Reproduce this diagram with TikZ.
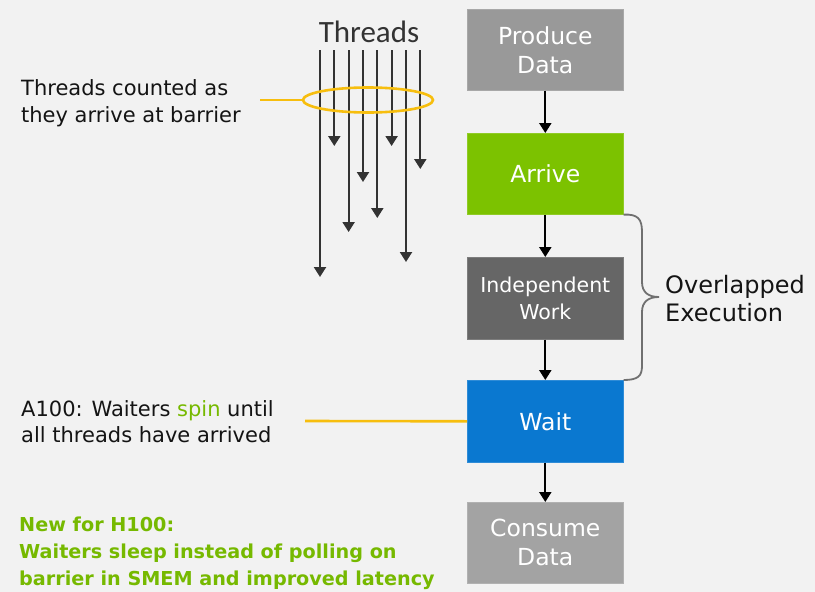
\documentclass[tikz,border=0pt]{standalone}
\usepackage{fontspec}
\setmainfont{DejaVu Sans}
\newfontfamily\headfont{Carlito}
\usetikzlibrary{arrows.meta,shapes.geometric}
\definecolor{bg}{HTML}{F2F2F2}
\definecolor{nvgreen}{HTML}{76B900}
\definecolor{arrivegreen}{HTML}{7CC200}
\definecolor{waitblue}{HTML}{0A78D0}
\definecolor{datagray}{HTML}{999999}
\definecolor{consumegray}{HTML}{A3A3A3}
\definecolor{workgray}{HTML}{666666}
\definecolor{hl}{HTML}{F7BE0E}
\definecolor{threadcol}{HTML}{333333}
\definecolor{bracecol}{HTML}{707070}
\definecolor{ink}{HTML}{141414}
\begin{document}
\begin{tikzpicture}[x=1pt,y=-1pt,
  stepbox/.style={anchor=north west, minimum width=156pt, minimum height=81pt,
    inner sep=0pt, text=white, align=center, draw=#1!85!white, line width=0.6pt, fill=#1},
  conn/.style={line width=2.2pt, black, -{Triangle[width=12pt,length=10pt]}},
  thread/.style={line width=2.2pt, threadcol, -{Triangle[width=12pt,length=10pt]}},
  callout/.style={hl, line width=2.6pt},
  lefttext/.style={anchor=base west, inner sep=0pt, text=ink, font=\fontsize{21}{26}\selectfont},
  greentext/.style={anchor=base west, inner sep=0pt, text=nvgreen, font=\fontsize{19.2}{27}\selectfont\bfseries},
  boxfont/.style={font=\fontsize{23.5}{29}\selectfont}
]
% canvas
\fill[bg] (0,0) rectangle (815,592);
\useasboundingbox (0,0) rectangle (815,592);

% pipeline boxes
\node[stepbox=datagray, boxfont] (pd) at (467,9) {Produce\\Data};
\node[stepbox=arrivegreen, boxfont] (ar) at (467,133) {Arrive};
\node[stepbox=workgray, minimum height=82pt, font=\fontsize{20.5}{27}\selectfont] (iw) at (467,257) {Independent\\Work};
\node[stepbox=waitblue, minimum height=82pt, boxfont] (wt) at (467,380) {Wait};
\node[stepbox=consumegray, boxfont] (cd) at (467,502) {Consume\\Data};

\draw[conn] (pd.south) -- (ar.north);
\draw[conn] (ar.south) -- (iw.north);
\draw[conn] (iw.south) -- (wt.north);
\draw[conn] (wt.south) -- (cd.north);

% brace over the overlapped part
\draw[bracecol, line width=1.8pt]
  (ar.south east) .. controls (638,214) and (642,219) .. (642,232)
  -- (642,282) .. controls (642,292) and (648,297) .. (659,297)
  .. controls (648,297) and (642,302) .. (642,312)
  -- (642,366) .. controls (642,376) and (638,380) .. (wt.north east);
\node[anchor=base west, inner sep=0pt, text=ink, font=\fontsize{24}{28}\selectfont] (ov1) at (665,293) {Overlapped};
\node[anchor=base west, inner sep=0pt, text=ink, font=\fontsize{24}{28}\selectfont] (ov2) at (665,321) {Execution};

% threads arriving at the barrier
\node[anchor=base, inner sep=0pt, text=threadcol, font=\headfont\fontsize{31}{31}\selectfont] (th) at (369,42) {Threads};
\foreach \i/\x/\e in {1/320/277, 2/334.3/146, 3/348.6/232, 4/363/182, 5/377.3/218, 6/391.6/146, 7/406/262, 8/420.3/169} {
  \coordinate (ts\i) at (\x,50);
  \coordinate (te\i) at (\x,\e);
  \draw[thread] (ts\i) -- (te\i);
}
\node[draw=hl, line width=2.6pt, ellipse, inner sep=0pt, minimum width=130pt, minimum height=25pt] (ring) at (368,100) {};
\coordinate (ringtail) at (260,100);
\draw[callout] (ringtail) -- (ring.west);

% annotations
\node[lefttext] (c1) at (21,95) {Threads counted as};
\node[lefttext] (c2) at (21,122) {they arrive at barrier};

\node[lefttext] (a1) at (21,416) {A100: Waiters \textcolor{nvgreen}{spin} until};
\node[lefttext] (a2) at (21,442) {all threads have arrived};
\coordinate (waittail) at (305,421);
\draw[callout] (waittail) -- (wt.west);

\node[greentext] (n1) at (19,531) {New for H100:};
\node[greentext] (n2) at (19,558) {Waiters sleep instead of polling on};
\node[greentext] (n3) at (19,585) {barrier in SMEM and improved latency};
\end{tikzpicture}
\end{document}
